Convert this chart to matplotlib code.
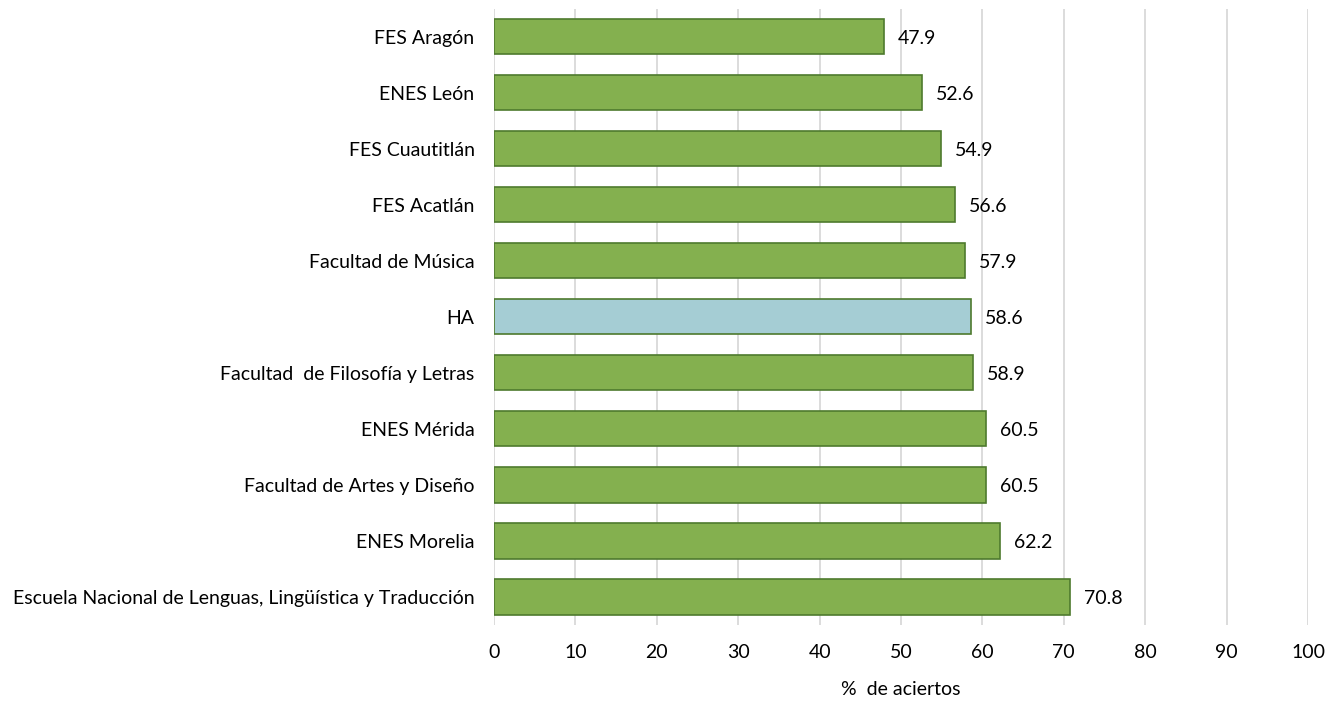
import matplotlib
matplotlib.use("Agg")
import matplotlib.pyplot as plt

categories = ["FES Aragón", "ENES León", "FES Cuautitlán", "FES Acatlán", "Facultad de Música",
              "HA", "Facultad  de Filosofía y Letras", "ENES Mérida", "Facultad de Artes y Diseño",
              "ENES Morelia", "Escuela Nacional de Lenguas, Lingüística y Traducción"]
values = [47.9, 52.6, 54.9, 56.6, 57.9, 58.6, 58.9, 60.5, 60.5, 62.2, 70.8]
xticks = [0, 10, 20, 30, 40, 50, 60, 70, 80, 90, 100]
xlabel = "%  de aciertos"

plt.rcParams['font.family'] = ['Lato', 'DejaVu Sans']
fs = 14
fig = plt.figure(figsize=(13.37, 7.01), dpi=100)
ax = fig.add_axes([494/1337, 1-625/701, (1308-494)/1337, (625-8.5)/701])

ypos = list(range(len(categories)))[::-1]
colors = ['#A5CDD4' if c == "HA" else '#84B04F' for c in categories]
ax.barh(ypos, values, height=0.63, color=colors, edgecolor='#4E7A2E', linewidth=1.2, zorder=3)
for y, v in zip(ypos, values):
    ax.text(v + 1.7, y, f"{v:.1f}", va='center_baseline', ha='left', fontsize=fs, color='#000000')

ax.set_xlim(0, 100)
ax.set_ylim(-0.5, len(categories) - 0.5)
ax.set_xticks(xticks)
ax.set_yticks(ypos)
ax.set_yticklabels(categories, fontsize=fs)
for lbl in ax.get_yticklabels():
    lbl.set_verticalalignment('center_baseline')
ax.tick_params(axis='x', labelsize=fs, length=0, pad=14)
ax.tick_params(axis='y', length=0, pad=14)
ax.grid(axis='x', color='#D9D9D9', linewidth=1.3, zorder=0)
for s in ax.spines.values():
    s.set_visible(False)
ax.set_xlabel(xlabel, fontsize=fs, labelpad=14)
fig.savefig("out.png", dpi=100)
